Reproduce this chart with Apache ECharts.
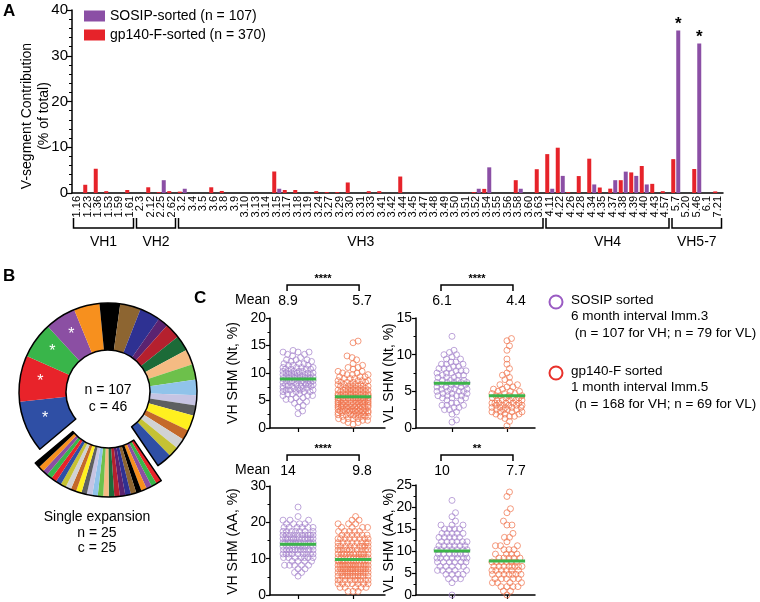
<!DOCTYPE html>
<html><head><meta charset="utf-8">
<script src="https://cdn.jsdelivr.net/npm/echarts@6/dist/echarts.min.js"></script>
<style>html,body{margin:0;padding:0;background:#fff}#c{width:760px;height:602px}</style>
</head><body><div id="c"></div>
<script>
const FONT = '"Liberation Sans", Arial, Helvetica, sans-serif';

// ---------- Panel A data ----------
const vSegments = ['1.16','1.23','1.36','1.53','1.59','1.61','2.3','2.12','2.25','2.62','3.2','3.4','3.5','3.6','3.8','3.9','3.10','3.13','3.14','3.15','3.17','3.18','3.19','3.24','3.27','3.29','3.30','3.31','3.33','3.41','3.42','3.44','3.45','3.47','3.48','3.49','3.50','3.51','3.52','3.54','3.55','3.56','3.58','3.60','3.63','4.11','4.22','4.26','4.28','4.34','4.35','4.37','4.38','4.39','4.40','4.43','4.57','5.7','5.20','5.46','6.1','7.21'];
const gp140Pct = [0,1.8,5.3,0.4,0,0.65, 0,1.25,0.2,0.4, 0.3,0,0,1.25,0.45,0,0,0,0,4.7,0.65,0.65,0,0.4,0.2,0.2,2.3,0,0.4,0.4,0,3.6,0,0,0,0,0,0,0.2,0.9,0,0,2.8,0,5.2, 8.5,9.9,0.2,3.7,7.5,1.2,0.95,2.8,4.5,5.9,2.0,0.4, 7.4,0,5.25,0,0.35];
const sosipPct = [0,0,0,0,0,0, 0,0,2.8,0, 0.93,0,0,0,0,0,0,0,0,0.93,0,0,0,0,0,0,0,0,0,0,0,0,0,0,0,0,0,0,0.93,5.61,0,0,0.93,0,0, 0.93,3.74,0,0,1.87,0,2.8,4.67,3.74,1.87,0,0, 35.5,0,32.7,0,0];
const starredSegments = ['5.7','5.46'];
const familyNames = ['VH1','VH2','VH3','VH4','VH5-7'];
const familyFirst = ['1.16','2.3','3.2','4.11','5.7'];
const familyLast = ['1.61','2.62','3.63','4.57','7.21'];
const legendNames = ['SOSIP-sorted (n = 107)','gp140-F-sorted (n = 370)'];

// ---------- Panel B data ----------
const cloneSizes = [10,9,7,6,5,4,4,4,2,3,3,3,3,3,2,2,3,2,2,2,3];
const cloneStarred = [1,1,1,1,0,0,0,0,0,0,0,0,0,0,0,0,0,0,0,0,0];
const singletonSizes = [1,1,1,1,1,1,1,1,1,1,1,1,1,1,1,1,1,1,1,1,1,1,1,1,1];
const clonePalette = ['#2f4fa5','#e8232a','#39b54a','#8b4fa3','#f7901e','#000000','#8d6531','#2e3192','#5b2371','#b5202e','#1c6b38','#f5bb83','#6dc04b','#90c3ea','#c6c4e3','#5d5f61','#fff01f','#c4692a','#d1d2d3','#c5c234'];

// ---------- Panel C data ----------
const VH_NT_SOSIP = [2.6,3.1,3.8,4.1,4.5,4.8,4.8,5.2,5.2,5.5,5.5,5.9,5.9,5.9,6.2,6.2,6.2,6.6,6.6,6.6,6.6,6.9,6.9,6.9,6.9,7.2,7.2,7.2,7.2,7.2,7.6,7.6,7.6,7.6,7.6,7.9,7.9,7.9,7.9,7.9,8.3,8.3,8.3,8.3,8.3,8.3,8.6,8.6,8.6,8.6,8.6,8.6,9.0,9.0,9.0,9.0,9.0,9.0,9.3,9.3,9.3,9.3,9.3,9.3,9.7,9.7,9.7,9.7,9.7,9.7,10.0,10.0,10.0,10.0,10.0,10.3,10.3,10.3,10.3,10.3,10.7,10.7,10.7,10.7,11.0,11.0,11.0,11.0,11.4,11.4,11.4,11.7,11.7,11.7,12.1,12.1,12.4,12.4,12.4,12.8,13.1,13.4,13.4,13.8,13.8,13.8,14.1];
const VH_NT_GP = [0.7,1.0,1.0,1.4,1.4,1.4,1.7,1.7,1.7,1.7,2.1,2.1,2.1,2.1,2.1,2.4,2.4,2.4,2.4,2.4,2.4,2.8,2.8,2.8,2.8,2.8,2.8,2.8,3.1,3.1,3.1,3.1,3.1,3.1,3.1,3.1,3.4,3.4,3.4,3.4,3.4,3.4,3.4,3.8,3.8,3.8,3.8,3.8,3.8,3.8,3.8,4.1,4.1,4.1,4.1,4.1,4.1,4.1,4.1,4.1,4.5,4.5,4.5,4.5,4.5,4.5,4.5,4.5,4.8,4.8,4.8,4.8,4.8,4.8,4.8,4.8,5.2,5.2,5.2,5.2,5.2,5.2,5.2,5.2,5.5,5.5,5.5,5.5,5.5,5.5,5.5,5.5,5.9,5.9,5.9,5.9,5.9,5.9,5.9,5.9,6.2,6.2,6.2,6.2,6.2,6.2,6.2,6.2,6.6,6.6,6.6,6.6,6.6,6.6,6.9,6.9,6.9,6.9,6.9,6.9,6.9,7.2,7.2,7.2,7.2,7.2,7.6,7.6,7.6,7.6,7.6,7.6,7.9,7.9,7.9,7.9,7.9,8.3,8.3,8.3,8.3,8.6,8.6,8.6,8.6,9.0,9.0,9.0,9.3,9.3,9.3,9.7,9.7,9.7,10.0,10.0,10.3,10.3,10.7,11.0,11.0,11.4,11.7,12.4,12.8,13.1,15.5,15.8];
const VL_NT_SOSIP = [0.8,1.1,1.9,2.2,2.5,2.5,2.8,2.8,3.1,3.1,3.1,3.4,3.4,3.8,3.8,4.1,4.1,4.1,4.4,4.4,4.4,4.4,4.7,4.7,4.7,5.0,5.0,5.0,5.0,5.3,5.3,5.3,5.3,5.6,5.6,5.6,5.9,5.9,5.9,5.9,6.2,6.2,6.2,6.2,6.2,6.5,6.5,6.5,6.5,6.9,6.9,6.9,7.2,7.2,7.2,7.5,7.5,7.5,7.8,7.8,7.8,8.1,8.1,8.1,8.4,8.4,8.7,8.7,8.7,9.0,9.0,9.4,9.4,9.7,10.0,10.0,10.3,10.6,12.5];
const VL_NT_GP = [0.3,0.9,1.3,1.6,1.6,1.6,1.9,1.9,1.9,2.2,2.2,2.2,2.2,2.5,2.5,2.5,2.5,2.8,2.8,2.8,2.8,2.8,3.1,3.1,3.1,3.1,3.1,3.4,3.4,3.4,3.4,3.4,3.4,3.8,3.8,3.8,3.8,3.8,4.1,4.1,4.1,4.1,4.4,4.4,4.4,4.4,4.7,4.7,4.7,5.0,5.0,5.0,5.3,5.3,5.6,5.6,5.9,5.9,6.2,6.6,6.9,7.2,7.5,8.1,8.7,9.4,10.6,11.2,11.9,12.2];
const VH_AA_SOSIP = [5.2,6.2,6.2,7.2,7.2,8.2,8.2,8.2,8.2,8.2,9.3,9.3,9.3,9.3,10.3,10.3,10.3,10.3,10.3,10.3,10.3,11.3,11.3,11.3,11.3,11.3,11.3,11.3,11.3,11.3,12.4,12.4,12.4,12.4,12.4,12.4,12.4,12.4,12.4,12.4,13.4,13.4,13.4,13.4,13.4,13.4,13.4,13.4,13.4,13.4,13.4,14.4,14.4,14.4,14.4,14.4,14.4,14.4,14.4,14.4,14.4,14.4,14.4,15.5,15.5,15.5,15.5,15.5,15.5,15.5,15.5,15.5,15.5,15.5,15.5,16.5,16.5,16.5,16.5,16.5,16.5,16.5,16.5,16.5,16.5,17.5,17.5,17.5,17.5,17.5,17.5,17.5,18.6,18.6,18.6,18.6,18.6,18.6,19.6,19.6,19.6,19.6,20.6,20.6,20.6,21.6,24.2];
const VH_AA_GP = [1.0,1.0,1.0,2.1,2.1,2.1,2.1,2.1,3.1,3.1,3.1,3.1,3.1,3.1,3.1,4.1,4.1,4.1,4.1,4.1,4.1,4.1,4.1,4.1,5.2,5.2,5.2,5.2,5.2,5.2,5.2,5.2,5.2,5.2,5.2,6.2,6.2,6.2,6.2,6.2,6.2,6.2,6.2,6.2,6.2,6.2,6.2,6.2,7.2,7.2,7.2,7.2,7.2,7.2,7.2,7.2,7.2,7.2,7.2,7.2,7.2,7.2,8.2,8.2,8.2,8.2,8.2,8.2,8.2,8.2,8.2,8.2,8.2,8.2,8.2,8.2,9.3,9.3,9.3,9.3,9.3,9.3,9.3,9.3,9.3,9.3,9.3,9.3,9.3,10.3,10.3,10.3,10.3,10.3,10.3,10.3,10.3,10.3,10.3,10.3,10.3,11.3,11.3,11.3,11.3,11.3,11.3,11.3,11.3,11.3,11.3,11.3,12.4,12.4,12.4,12.4,12.4,12.4,12.4,12.4,12.4,12.4,13.4,13.4,13.4,13.4,13.4,13.4,13.4,13.4,13.4,14.4,14.4,14.4,14.4,14.4,14.4,14.4,14.4,15.5,15.5,15.5,15.5,15.5,15.5,15.5,15.5,16.5,16.5,16.5,16.5,16.5,16.5,17.5,17.5,17.5,17.5,17.5,18.6,18.6,18.6,18.6,19.6,19.6,19.6,20.6,20.6,21.6];
const VL_AA_SOSIP = [0.0,2.8,3.7,3.7,3.7,4.7,4.7,4.7,4.7,5.6,5.6,5.6,5.6,5.6,6.5,6.5,6.5,6.5,6.5,7.5,7.5,7.5,7.5,7.5,7.5,8.4,8.4,8.4,8.4,8.4,8.4,8.4,9.3,9.3,9.3,9.3,9.3,9.3,9.3,10.3,10.3,10.3,10.3,10.3,10.3,10.3,11.2,11.2,11.2,11.2,11.2,11.2,12.1,12.1,12.1,12.1,12.1,12.1,13.1,13.1,13.1,13.1,13.1,14.0,14.0,14.0,14.0,14.0,15.0,15.0,15.0,15.0,15.9,15.9,15.9,16.8,17.8,18.7,21.5];
const VL_AA_GP = [0.0,0.9,0.9,1.9,1.9,1.9,1.9,2.8,2.8,2.8,2.8,3.7,3.7,3.7,3.7,3.7,4.7,4.7,4.7,4.7,4.7,4.7,4.7,5.6,5.6,5.6,5.6,5.6,5.6,6.5,6.5,6.5,6.5,6.5,6.5,6.5,6.5,7.5,7.5,7.5,7.5,7.5,7.5,8.4,8.4,8.4,8.4,8.4,9.3,9.3,9.3,9.3,10.3,10.3,10.3,11.2,11.2,11.2,12.1,13.1,13.1,14.0,15.9,15.9,16.8,18.7,19.6,22.4,23.4];
const meansVhNt = [8.9, 5.7];
const meansVlNt = [6.1, 4.4];
const meansVhAa = [14, 9.8];
const meansVlAa = [10, 7.7];
const sigLabels = ['****','****','****','**'];
const groupNames = ['SOSIP sorted','gp140-F sorted'];

// ---------- layout / style ----------
const RED = '#e6232a', PURPLE = '#8b4fa5';
const PT_COLORS = ['#a483cc', '#f0744c'];
const gridA = {left:72, top:10, width:651, height:183};
const cPlots = [
  {grid:{left:270, top:318, width:115, height:110}, ymax:20, yint:5, xmin:0.49, xmax:2.58, name:'VH SHM (Nt, %)', nameX:233, data:[VH_NT_SOSIP, VH_NT_GP], means:meansVhNt, bY:285, mY:301, meanWord:true},
  {grid:{left:416, top:318, width:119, height:110}, ymax:15, yint:5, xmin:0.345, xmax:2.51, name:'VL SHM (Nt, %)', nameX:389, data:[VL_NT_SOSIP, VL_NT_GP], means:meansVlNt, bY:285, mY:301, meanWord:false},
  {grid:{left:270, top:486, width:115, height:111}, ymax:30, yint:10, xmin:0.49, xmax:2.58, name:'VH SHM (AA, %)', nameX:233, data:[VH_AA_SOSIP, VH_AA_GP], means:meansVhAa, bY:455, mY:471, meanWord:true},
  {grid:{left:416, top:485, width:119, height:111}, ymax:25, yint:5, xmin:0.345, xmax:2.51, name:'VL SHM (AA, %)', nameX:389, data:[VL_AA_SOSIP, VL_AA_GP], means:meansVlAa, bY:455, mY:471, meanWord:false}
];

function swarm(vals, cx, pxX, pxY, d, halfW){
  const s = vals.slice().sort((a,b)=>a-b);
  const placed = [];
  const cands = [0];
  for (let k=0.5; k<=halfW; k+=0.5){ cands.push(k); cands.push(-k); }
  return s.map(v=>{
    const y = v*pxY;
    let best = 0, bestCost = Infinity;
    for (const c of cands){
      let cost = 0;
      for (let j=placed.length-1; j>=0; j--){
        const p = placed[j];
        const dy = y - p[1];
        if (dy >= d) break;
        const dx = c - p[0];
        const dist = Math.sqrt(dx*dx+dy*dy);
        if (dist < d) cost += (d-dist)*(d-dist);
      }
      if (cost < bestCost - 1e-9){ bestCost = cost; best = c; if (cost === 0) break; }
    }
    placed.push([best, y]);
    return [cx + best/pxX, v];
  });
}

const axisLineStyle = {color:'#000', width:1.5};
const grids = [gridA].concat(cPlots.map(p=>p.grid));
const xAxes = [{
  type:'category', gridIndex:0, data:vSegments, boundaryGap:true,
  axisLine:{lineStyle:axisLineStyle},
  axisTick:{alignWithLabel:true, length:4, lineStyle:{color:'#000', width:1.2}},
  axisLabel:{rotate:90, interval:0, fontSize:11, color:'#000', margin:3, fontFamily:FONT},
  splitLine:{show:false}
}];
const yAxes = [{
  type:'value', gridIndex:0, min:0, max:40, interval:10,
  axisLine:{show:true, lineStyle:axisLineStyle},
  axisTick:{show:true, length:5, lineStyle:{color:'#000', width:1.2}},
  minorTick:{show:true, splitNumber:5, length:3, lineStyle:{color:'#000', width:1}},
  axisLabel:{fontSize:15, color:'#000', margin:4, fontFamily:FONT},
  splitLine:{show:false}
}];
const series = [
  {type:'bar', name:legendNames[1], xAxisIndex:0, yAxisIndex:0, data:gp140Pct, barWidth:4, barGap:'25%', itemStyle:{color:RED}},
  {type:'bar', name:legendNames[0], xAxisIndex:0, yAxisIndex:0, barWidth:4, barGap:'25%', itemStyle:{color:PURPLE},
   data:sosipPct.map((v,i)=> starredSegments.indexOf(vSegments[i])>=0 ? {value:v, label:{show:true, position:'top', formatter:'*', fontSize:17, fontWeight:'bold', color:'#000', distance:-2}} : v)}
];

cPlots.forEach((p,k)=>{
  const gi = k+1;
  xAxes.push({type:'value', gridIndex:gi, min:p.xmin, max:p.xmax,
    axisLine:{lineStyle:axisLineStyle},
    axisTick:{show:true, customValues:[1,2], length:4, lineStyle:{color:'#000', width:1.2}},
    axisLabel:{show:false}, splitLine:{show:false}});
  yAxes.push({type:'value', gridIndex:gi, min:0, max:p.ymax, interval:p.yint,
    axisLine:{show:true, lineStyle:axisLineStyle},
    axisTick:{show:true, length:4, lineStyle:{color:'#000', width:1.2}},
    minorTick:{show:true, splitNumber:2, length:2.5, lineStyle:{color:'#000', width:1}},
    axisLabel:{fontSize:14, color:'#000', margin:4, fontFamily:FONT},
    splitLine:{show:false}});
  const pxX = p.grid.width/(p.xmax-p.xmin), pxY = p.grid.height/p.ymax;
  p.data.forEach((vals,g)=>{
    series.push({type:'scatter', xAxisIndex:gi, yAxisIndex:gi, symbol:'circle', symbolSize:6,
      itemStyle:{color:'rgba(255,255,255,0)', borderColor:PT_COLORS[g], borderWidth:0.9},
      data:swarm(vals, g+1, pxX, pxY, 5, 15), z:2, silent:true});
    series.push({type:'line', xAxisIndex:gi, yAxisIndex:gi, symbol:'none', z:5, silent:true,
      lineStyle:{color:'#3cb44a', width:3},
      data:[[g+1-0.33, p.means[g]],[g+1+0.33, p.means[g]]]});
  });
});

// Panel B pies
const expandedTotal = cloneSizes.reduce((a,b)=>a+b,0);
const ringCenter = [108, 392];
const mainData = cloneSizes.map((v,i)=>({value:v, itemStyle:{color:clonePalette[i%clonePalette.length]},
  label: cloneStarred[i] ? {show:true, position:'inside', formatter:'*', color:'#fff', fontSize:16} : {show:false}}));
mainData.push({value:singletonSizes.reduce((a,b)=>a+b,0), itemStyle:{color:'rgba(0,0,0,0)'}, label:{show:false}});
const singleData = [{value:expandedTotal, itemStyle:{color:'rgba(0,0,0,0)'}}].concat(
  singletonSizes.map((v,j)=>({value:v, itemStyle:{color:clonePalette[(cloneSizes.length+j)%clonePalette.length]}})));
const pieBase = {type:'pie', startAngle:220, clockwise:true, silent:true, label:{show:false}, labelLine:{show:false}, emphasis:{disabled:true}, avoidLabelOverlap:false};
series.push(Object.assign({}, pieBase, {center:ringCenter, radius:[42,89], data:mainData, itemStyle:{borderWidth:0}}));
series.push(Object.assign({}, pieBase, {center:ringCenter, radius:[42,89], z:3,
  data:[{value:expandedTotal, itemStyle:{color:'rgba(0,0,0,0)', borderColor:'#000', borderWidth:1.5}}, {value:singletonSizes.length, itemStyle:{color:'rgba(0,0,0,0)', borderWidth:0}}]}));
series.push(Object.assign({}, pieBase, {center:[108,402], radius:[46,95], data:singleData, itemStyle:{borderWidth:0}}));
series.push(Object.assign({}, pieBase, {center:[108,402], radius:[46,95], z:3,
  data:[{value:expandedTotal, itemStyle:{color:'rgba(0,0,0,0)', borderWidth:0}}, {value:singletonSizes.length, itemStyle:{color:'rgba(0,0,0,0)', borderColor:'#000', borderWidth:1.5}}]}));

const chart = echarts.init(document.getElementById('c'));
chart.setOption({
  animation:false, backgroundColor:'#fff',
  textStyle:{fontFamily:FONT, color:'#000'},
  legend:{data:legendNames, left:79, top:4, orient:'vertical', icon:'rect', itemWidth:21, itemHeight:11, itemGap:5, selectedMode:false,
    textStyle:{fontSize:14, color:'#000', fontFamily:FONT}},
  grid:grids, xAxis:xAxes, yAxis:yAxes, series:series
});

// annotations computed via axis conversions
const gfx = [];
const T = (x,y,text,opt)=>gfx.push(Object.assign({type:'text', x:x, y:y, silent:true,
  style:Object.assign({text:text, fontSize:14, fontFamily:FONT, fill:'#000', align:'center', verticalAlign:'middle'}, opt||{})}));
T(3,3,'A',{fontSize:17, fontWeight:'bold', align:'left', verticalAlign:'top'});
T(3,268,'B',{fontSize:17, fontWeight:'bold', align:'left', verticalAlign:'top'});
T(194,290,'C',{fontSize:17, fontWeight:'bold', align:'left', verticalAlign:'top'});
gfx.push({type:'text', x:36, y:116, rotation:Math.PI/2, silent:true,
  style:{text:'V-segment Contribution\n(% of total)', fontSize:14, lineHeight:17, fontFamily:FONT, fill:'#000', align:'center', verticalAlign:'middle'}});
const band = chart.convertToPixel({xAxisIndex:0}, vSegments[1]) - chart.convertToPixel({xAxisIndex:0}, vSegments[0]);
familyNames.forEach((nm,i)=>{
  const x1 = chart.convertToPixel({xAxisIndex:0}, familyFirst[i]) - band/2 + 1.5;
  const x2 = chart.convertToPixel({xAxisIndex:0}, familyLast[i]) + band/2 - 1.5;
  gfx.push({type:'polyline', silent:true, shape:{points:[[x1,218],[x1,228],[x2,228],[x2,218]]}, style:{stroke:'#000', lineWidth:1.5, fill:null}});
  T((x1+x2)/2, 242, nm, {fontSize:14});
});
// Panel B texts
T(ringCenter[0], 390, 'n = 107');
T(ringCenter[0], 407, 'c = ' + (cloneSizes.length + singletonSizes.length));
T(97, 517, 'Single expansion');
T(97, 533, 'n = ' + singletonSizes.length);
T(97, 548, 'c = ' + singletonSizes.length);
// Panel C annotations
cPlots.forEach((p,k)=>{
  const t1 = chart.convertToPixel({xAxisIndex:k+1}, 1);
  const t2 = chart.convertToPixel({xAxisIndex:k+1}, 2);
  const x1 = t1 - 11, x2 = t2 + 6;
  gfx.push({type:'polyline', silent:true, shape:{points:[[x1,p.bY+6],[x1,p.bY],[x2,p.bY],[x2,p.bY+6]]}, style:{stroke:'#000', lineWidth:1.5, fill:null}});
  T((x1+x2)/2, p.bY-6, sigLabels[k], {fontSize:11, fontWeight:'bold'});
  T(x1+1, p.mY, String(p.means[0]));
  T(x2+3, p.mY, String(p.means[1]));
  if (p.meanWord) T(p.grid.left, p.mY-1, 'Mean', {align:'right'});
  gfx.push({type:'text', x:p.nameX, y:p.grid.top + p.grid.height/2, rotation:Math.PI/2, silent:true,
    style:{text:p.name, fontSize:14, fontFamily:FONT, fill:'#000', align:'center', verticalAlign:'middle'}});
});
// Panel C legend
const legendC = [
  {cy:302, color:'#9a5bc3', lines:[groupNames[0], '6 month interval Imm.3', ' (n = 107 for VH; n = 79 for VL)']},
  {cy:373, color:'#e8312b', lines:[groupNames[1], '1 month interval Imm.5', ' (n = 168 for VH; n = 69 for VL)']}
];
legendC.forEach(l=>{
  gfx.push({type:'circle', silent:true, shape:{cx:556, cy:l.cy, r:6.5}, style:{fill:'none', stroke:l.color, lineWidth:2}});
  l.lines.forEach((s,i)=>T(571, l.cy - 2 + i*16.5, s, {align:'left', fontSize:13.5}));
});
chart.setOption({graphic:gfx});
</script>
</body></html>
